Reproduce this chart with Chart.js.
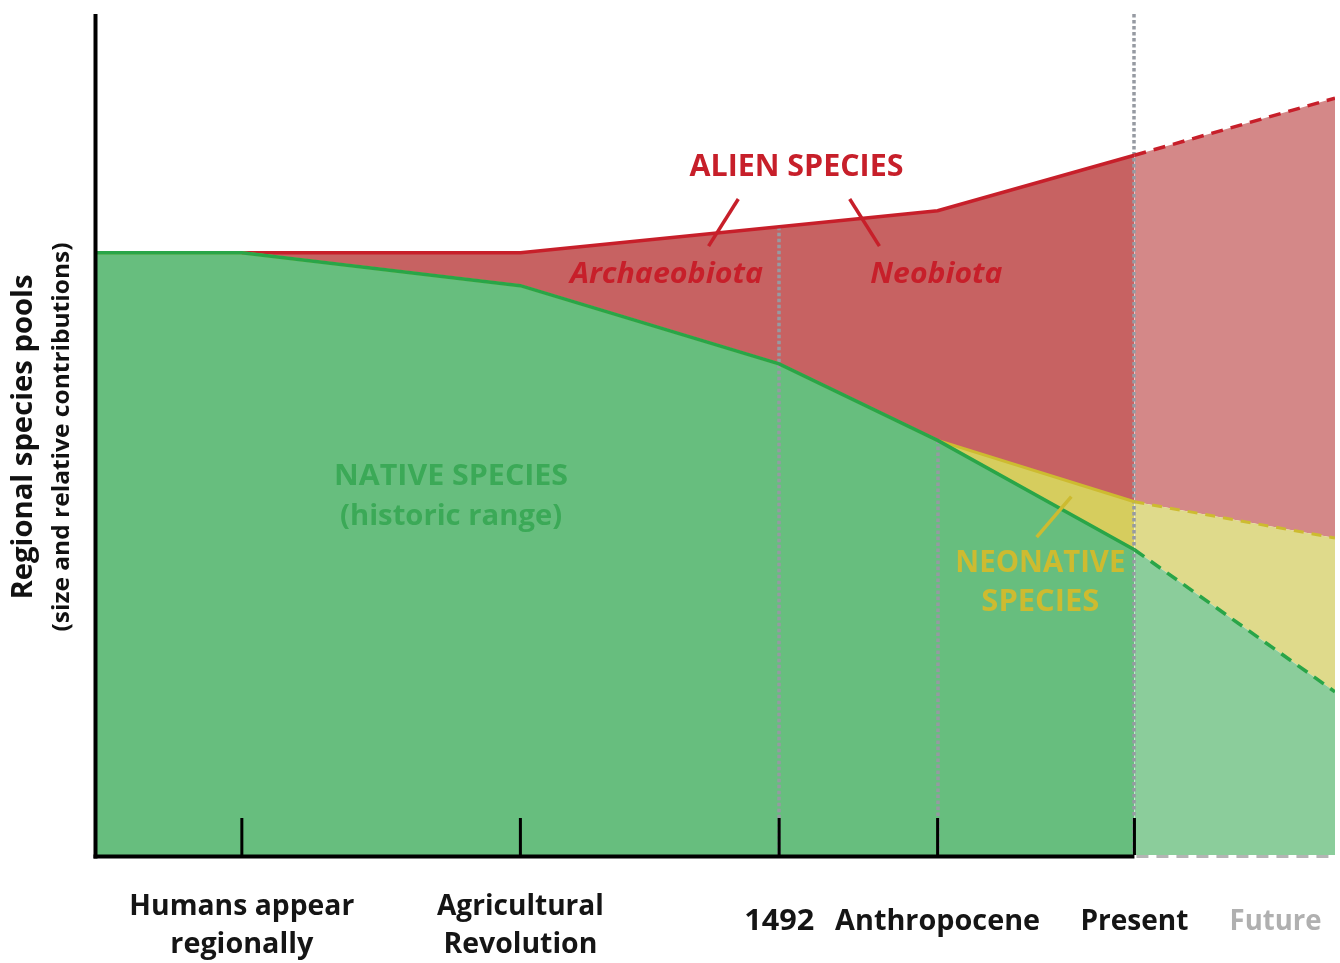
<!DOCTYPE html>
<html>
<head>
<meta charset="utf-8">
<script src="https://cdn.jsdelivr.net/npm/chart.js@4.4.1/dist/chart.umd.min.js"></script>
<style>
  html, body { margin: 0; padding: 0; background: #fff; }
  #wrap { width: 1340px; height: 963px; }
</style>
</head>
<body>
<div id="wrap"><canvas id="chart"></canvas></div>
<script>
// timeline positions (arbitrary units, 0 = start of axis, 100 = far future)
const timeline = [0, 11.7, 34.2, 55.1, 67.9, 83.8, 100];
const eventLabels = [
  ['Humans appear', 'regionally'],
  ['Agricultural', 'Revolution'],
  ['1492'],
  ['Anthropocene'],
  ['Present']
];
const eventPositions = [11.7, 34.2, 55.1, 67.9, 83.8];
const futureLabel = 'Future';
const futurePosition = 95.2;

// upper edge of each species pool (relative size, 0-100)
const nativePool = [71.6, 71.6, 67.7, 58.4, 49.3, 36.3, 19.4];
const neonativePool = [71.6, 71.6, 67.7, 58.4, 49.3, 42.0, 37.7];
const alienPool = [71.6, 71.6, 71.6, 74.7, 76.6, 83.2, 90.0];

const presentIndex = 5;   // segments from here on are projections

const RED_LINE = '#c71f2a';
const GREEN_LINE = '#29a548';
const YELLOW_LINE = '#cdbb30';
const HIDDEN = 'rgba(0,0,0,0)';

const toPoints = vals => vals.map((v, i) => ({ x: timeline[i], y: v }));
const future = c => c.p0DataIndex >= presentIndex;

// label widths measured on the original figure (its font is narrower than Open Sans)
const labelWidths = {
  'Humans appear': 225, 'regionally': 143, 'Agricultural': 167, 'Revolution': 154,
  '1492': 70, 'Anthropocene': 205, 'Present': 108, 'Future': 92
};

function drawText(ctx, text, x, y, opts) {
  ctx.save();
  ctx.font = (opts.italic ? 'italic ' : '') + 'bold ' + opts.size + 'px "Open Sans"';
  const w = ctx.measureText(text).width;
  ctx.translate(x, y);
  if (opts.rotate) ctx.rotate(opts.rotate);
  if (opts.width) ctx.scale(opts.width / w, 1);
  ctx.fillStyle = opts.color;
  ctx.textAlign = 'center';
  ctx.textBaseline = 'middle';
  ctx.fillText(text, 0, 0);
  ctx.restore();
}

function drawSegment(ctx, x1, y1, x2, y2, color, width, dash) {
  ctx.save();
  ctx.strokeStyle = color;
  ctx.lineWidth = width;
  ctx.setLineDash(dash || []);
  ctx.beginPath();
  ctx.moveTo(x1, y1);
  ctx.lineTo(x2, y2);
  ctx.stroke();
  ctx.restore();
}

// dotted guides go over the fills but under the pool edges
const guidePlugin = {
  id: 'guides',
  beforeDatasetsDraw(chart) {
    const { ctx, chartArea: a, scales: { x, y } } = chart;
    const dotted = [3.5, 2.5];
    const col = '#969aa2';
    const gx = i => Math.round(x.getPixelForValue(timeline[i]));
    drawSegment(ctx, gx(3), y.getPixelForValue(alienPool[3]), gx(3), a.bottom, col, 3.5, dotted);
    drawSegment(ctx, gx(4), y.getPixelForValue(nativePool[4]), gx(4), a.bottom, col, 3.5, dotted);
    drawSegment(ctx, gx(5), a.top, gx(5), a.bottom, col, 3.5, dotted);
  }
};

const annotationPlugin = {
  id: 'annotations',
  afterDatasetsDraw(chart) {
    const { ctx, chartArea: a, scales: { x, y } } = chart;
    const px = v => x.getPixelForValue(v);
    const py = v => y.getPixelForValue(v);

    // axes
    drawSegment(ctx, a.left - 1.5, a.top, a.left - 1.5, a.bottom + 3.5, '#000', 4);
    drawSegment(ctx, a.left - 3.5, a.bottom + 1.5, px(timeline[presentIndex]), a.bottom + 1.5, '#000', 4);
    drawSegment(ctx, px(timeline[presentIndex]) + 2, a.bottom + 1.5, a.right, a.bottom + 1.5, '#b4b4b4', 3, [12, 8]);
    eventPositions.forEach(p => {
      drawSegment(ctx, px(p), a.bottom - 37, px(p), a.bottom, '#000', 3);
    });

    // event labels
    eventLabels.forEach((lines, i) => {
      const cx = px(eventPositions[i]);
      const rows = lines.length === 2 ? [a.bottom + 52, a.bottom + 90] : [a.bottom + 67];
      lines.forEach((t, j) => {
        drawText(ctx, t, cx, rows[j], { size: 29, color: '#151515', width: labelWidths[t] });
      });
    });
    drawText(ctx, futureLabel, px(futurePosition), a.bottom + 67,
      { size: 29, color: '#b0b0b0', width: labelWidths[futureLabel] });

    // y title
    drawText(ctx, 'Regional species pools', 24, 437, { size: 29, color: '#111', rotate: -Math.PI / 2, width: 325 });
    drawText(ctx, '(size and relative contributions)', 62, 437, { size: 23, color: '#111', rotate: -Math.PI / 2, width: 389 });

    // pointers
    drawSegment(ctx, px(51.8), py(78.0), px(49.4), py(72.4), RED_LINE, 3.5);
    drawSegment(ctx, px(60.8), py(78.0), px(63.2), py(72.4), RED_LINE, 3.5);
    drawSegment(ctx, px(78.7), py(42.6), px(75.9), py(37.8), YELLOW_LINE, 3.5);

    // pool names
    drawText(ctx, 'ALIEN SPECIES', px(56.5), py(81.8), { size: 31, color: RED_LINE, width: 214 });
    drawText(ctx, 'Archaeobiota', px(46.0), py(69.0), { size: 29, color: RED_LINE, italic: true, width: 193 });
    drawText(ctx, 'Neobiota', px(67.8), py(69.0), { size: 29, color: RED_LINE, italic: true, width: 132 });
    drawText(ctx, 'NATIVE SPECIES', px(28.6), py(45.0), { size: 29, color: '#3ba957', width: 234 });
    drawText(ctx, '(historic range)', px(28.6), py(40.2), { size: 29, color: '#3ba957', width: 222 });
    drawText(ctx, 'NEONATIVE', px(76.2), py(34.7), { size: 30, color: YELLOW_LINE, width: 170 });
    drawText(ctx, 'SPECIES', px(76.2), py(30.0), { size: 30, color: YELLOW_LINE, width: 118 });
  }
};

new Chart(document.getElementById('chart'), {
  type: 'line',
  data: {
    datasets: [
      {
        label: 'Native species',
        data: toPoints(nativePool),
        borderColor: GREEN_LINE,
        backgroundColor: '#67be7e',
        borderWidth: 3.5,
        fill: 'origin',
        segment: {
          borderDash: c => future(c) ? [12, 8] : undefined,
          backgroundColor: c => future(c) ? '#8bcd9b' : undefined
        }
      },
      {
        // runs along the native edge until the Anthropocene, hidden under the green line
        label: 'Neonative species',
        data: toPoints(neonativePool),
        borderColor: YELLOW_LINE,
        backgroundColor: '#d6cd5e',
        borderWidth: 3,
        fill: '-1',
        segment: {
          borderDash: c => future(c) ? [10, 8] : undefined,
          backgroundColor: c => future(c) ? '#dfda8b' : undefined
        }
      },
      {
        label: 'Alien species',
        data: toPoints(alienPool),
        borderColor: RED_LINE,
        backgroundColor: '#c76262',
        borderWidth: 3.5,
        fill: '-1',
        segment: {
          borderColor: c => c.p0DataIndex < 1 ? HIDDEN : undefined,
          borderDash: c => future(c) ? [12, 8] : undefined,
          backgroundColor: c => future(c) ? '#d48888' : undefined
        }
      }
    ]
  },
  options: {
    responsive: true,
    maintainAspectRatio: false,
    animation: false,
    layout: { padding: { left: 97, right: 5, top: 14, bottom: 108 } },
    elements: { point: { radius: 0 }, line: { tension: 0 } },
    scales: {
      x: { type: 'linear', display: false, min: 0, max: 100 },
      y: { display: false, min: 0, max: 100 }
    },
    plugins: {
      legend: { display: false },
      tooltip: { enabled: false },
      filler: { drawTime: 'beforeDatasetsDraw' }
    }
  },
  plugins: [guidePlugin, annotationPlugin]
});
</script>
</body>
</html>
